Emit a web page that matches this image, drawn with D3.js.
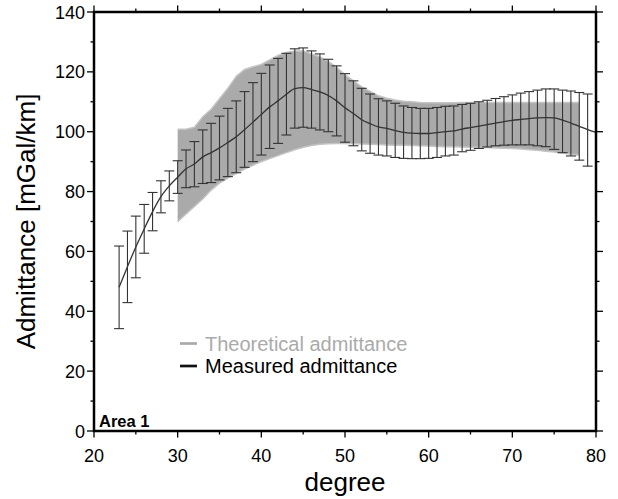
<!DOCTYPE html>
<meta charset='utf-8'>
<head>
    <title>Admittance</title>
    <script src='https://cdn.jsdelivr.net/npm/d3@7/dist/d3.min.js'></script>
</head>

<style>
    body { margin: 0; background: #fff; }
    text { font-family: 'Liberation Sans', Arial, Helvetica, sans-serif; fill: #000; }
    .frame { fill: none; stroke: #000; stroke-width: 2.5px; }
    .tick { stroke: #000; stroke-width: 1.3px; }
    .band { fill: #aaa; stroke: none; }
    .band-edge { fill: none; stroke: #c4c4c4; stroke-width: 1.5px; }
    .bar { stroke: #333; stroke-width: 1.1px; fill: none; }
    .mean { fill: none; stroke: #333; stroke-width: 1.3px; }
</style>

<svg></svg>

<script>

    // measured admittance, error bars at each degree
    var barDegree = d3.range(23, 80);
    var barHigh = [61.8, 66.8, 71.8, 75.7, 79.7, 83.6, 86.9, 90.3, 93.9, 96.7,
        100.6, 102.8, 105.2, 107.8, 110.3, 113.4, 116.4, 119.5, 122.3, 124.5,
        126.2, 127.7, 128.0, 127.0, 126.0, 124.2, 122.0, 119.4, 117.0, 114.5,
        112.6, 111.0, 110.3, 109.5, 108.6, 108.1, 107.8, 107.8, 108.1, 108.5,
        108.6, 109.1, 109.5, 110.0, 110.5, 111.1, 111.7, 112.3, 112.9, 113.4,
        113.9, 114.3, 114.3, 113.9, 113.6, 113.1, 112.6];
    var barLow = [34.2, 42.9, 51.2, 59.4, 66.9, 72.9, 76.9, 79.4, 81.3, 81.6,
        82.7, 83.0, 83.9, 85.0, 86.3, 88.1, 90.0, 92.2, 94.4, 96.1,
        98.9, 101.2, 101.5, 101.2, 100.6, 100.0, 98.6, 96.5, 95.3, 93.6,
        92.8, 92.2, 91.9, 91.4, 91.1, 91.0, 91.0, 91.1, 91.4, 91.9,
        92.2, 93.3, 93.8, 94.4, 94.9, 95.3, 95.5, 95.6, 95.6, 95.6,
        95.3, 95.0, 94.1, 93.0, 91.9, 90.5, 88.5];

    // measured mean curve
    var meanDegree = d3.range(23, 81);
    var meanValue = [48.0, 54.9, 61.5, 67.5, 73.3, 78.3, 81.9, 84.8, 87.6, 89.2,
        91.6, 93.0, 94.6, 96.4, 98.3, 100.7, 103.2, 105.8, 108.3, 110.3,
        112.5, 114.4, 114.7, 114.1, 113.3, 112.1, 110.3, 108.0, 106.1, 104.0,
        102.7, 101.6, 101.1, 100.4, 99.8, 99.5, 99.4, 99.4, 99.7, 100.0,
        100.3, 100.9, 101.4, 101.9, 102.4, 102.9, 103.4, 103.8, 104.1, 104.4,
        104.6, 104.7, 104.6, 103.9, 102.9, 101.8, 100.7, 99.8];

    // theoretical admittance envelope
    var theoryDegree = d3.range(30, 79);
    var theoryHigh = [100.8, 100.8, 101.5, 105.0, 107.5, 111.0, 114.5, 118.5, 120.8, 121.7,
        122.5, 124.0, 125.5, 126.5, 127.0, 127.0, 126.0, 125.0, 123.5, 121.5,
        119.0, 117.0, 115.0, 113.5, 112.0, 111.2, 110.6, 110.2, 110.0, 109.8,
        109.7, 109.7, 109.7, 109.7, 109.8, 109.8, 109.8, 109.8, 109.8, 109.8,
        109.8, 109.8, 109.8, 109.8, 109.8, 109.8, 109.8, 109.8, 109.8];
    var theoryLow = [69.9, 72.5, 75.0, 77.5, 80.5, 82.8, 84.5, 86.0, 87.5, 88.8,
        90.0, 91.0, 92.0, 93.0, 94.0, 94.8, 95.4, 95.8, 96.0, 96.1,
        96.1, 96.0, 95.9, 95.8, 95.7, 95.6, 95.5, 95.5, 95.4, 95.3,
        95.2, 95.1, 95.0, 95.0, 94.9, 94.8, 94.8, 94.7, 94.6, 94.5,
        94.4, 94.2, 94.0, 93.8, 93.5, 93.2, 92.9, 92.5, 92.1];

    var xTicks = [20, 30, 40, 50, 60, 70, 80];
    var yTicks = [0, 20, 40, 60, 80, 100, 120, 140];
    var legendLabels = ['Theoretical admittance', 'Measured admittance'];
    var legendColors = ['#aaa', '#111'];

    var vWidth = 618;
    var vHeight = 499;
    var pLeft = 94, pRight = 596, pTop = 12, pBottom = 431;

    var svg = d3.select('svg').attr('width', vWidth).attr('height', vHeight);

    var x = d3.scaleLinear().domain([20, 80]).range([pLeft, pRight]);
    var y = d3.scaleLinear().domain([0, 140]).range([pBottom, pTop]);

    var g = svg.append('g');

    // theoretical band
    var band = theoryDegree.map(function (d, i) { return {d: d, lo: theoryLow[i], hi: theoryHigh[i]}; });
    g.append('path').attr('class', 'band')
        .attr('d', d3.area().x(function (d) { return x(d.d); })
            .y0(function (d) { return y(d.lo); }).y1(function (d) { return y(d.hi); })(band));
    g.append('path').attr('class', 'band-edge')
        .attr('d', d3.line().x(function (d) { return x(d.d); }).y(function (d) { return y(d.hi); })(band));
    g.append('path').attr('class', 'band-edge')
        .attr('d', d3.line().x(function (d) { return x(d.d); }).y(function (d) { return y(d.lo); })(band));

    // error bars
    var bars = barDegree.map(function (d, i) { return {d: d, lo: barLow[i], hi: barHigh[i]}; });
    var cap = 5;
    var eb = g.selectAll('g.eb').data(bars).enter().append('g').attr('class', 'eb');
    eb.append('line').attr('class', 'bar')
        .attr('x1', function (d) { return x(d.d); }).attr('x2', function (d) { return x(d.d); })
        .attr('y1', function (d) { return y(d.lo); }).attr('y2', function (d) { return y(d.hi); });
    eb.append('line').attr('class', 'bar')
        .attr('x1', function (d) { return x(d.d) - cap; }).attr('x2', function (d) { return x(d.d) + cap; })
        .attr('y1', function (d) { return y(d.hi); }).attr('y2', function (d) { return y(d.hi); });
    eb.append('line').attr('class', 'bar')
        .attr('x1', function (d) { return x(d.d) - cap; }).attr('x2', function (d) { return x(d.d) + cap; })
        .attr('y1', function (d) { return y(d.lo); }).attr('y2', function (d) { return y(d.lo); });

    // mean curve
    g.append('path').attr('class', 'mean')
        .attr('d', d3.line().x(function (d) { return x(d); })
            .y(function (d, i) { return y(meanValue[i]); })
            .curve(d3.curveMonotoneX)(meanDegree));

    // frame and ticks (outward, all four sides)
    var ticks = svg.append('g');
    var xMinor = d3.range(20, 81, 5);
    var yMinor = d3.range(0, 141, 10);
    xMinor.forEach(function (v) {
        var len = v % 10 === 0 ? 6.5 : 3.5;
        ticks.append('line').attr('class', 'tick').attr('x1', x(v)).attr('x2', x(v))
            .attr('y1', pBottom).attr('y2', pBottom + len);
        ticks.append('line').attr('class', 'tick').attr('x1', x(v)).attr('x2', x(v))
            .attr('y1', pTop).attr('y2', pTop - len);
    });
    yMinor.forEach(function (v) {
        var len = v % 20 === 0 ? 7 : 3.5;
        ticks.append('line').attr('class', 'tick').attr('y1', y(v)).attr('y2', y(v))
            .attr('x1', pLeft).attr('x2', pLeft - len);
        ticks.append('line').attr('class', 'tick').attr('y1', y(v)).attr('y2', y(v))
            .attr('x1', pRight).attr('x2', pRight + len);
    });
    svg.append('rect').attr('class', 'frame')
        .attr('x', pLeft).attr('y', pTop).attr('width', pRight - pLeft).attr('height', pBottom - pTop);

    // tick labels
    svg.selectAll('text.xl').data(xTicks).enter().append('text')
        .attr('x', function (d) { return x(d); }).attr('y', 461.5)
        .attr('text-anchor', 'middle').style('font-size', '18px').text(function (d) { return d; });
    svg.selectAll('text.yl').data(yTicks).enter().append('text')
        .attr('x', 85).attr('y', function (d) { return y(d) + 6.5; })
        .attr('text-anchor', 'end').style('font-size', '18px').text(function (d) { return d; });

    // axis titles
    svg.append('text').attr('x', (pLeft + pRight) / 2).attr('y', 491)
        .attr('text-anchor', 'middle').style('font-size', '26px').text('degree');
    svg.append('text').attr('transform', 'translate(35,' + ((pTop + pBottom) / 2) + ') rotate(-90)')
        .attr('text-anchor', 'middle').style('font-size', '26px').text('Admittance [mGal/km]');

    // panel label
    svg.append('text').attr('x', 99).attr('y', 426.5)
        .style('font-size', '16.5px').style('font-weight', 'bold').text('Area 1');

    // legend
    var lg = svg.selectAll('g.lg').data(legendLabels).enter().append('g')
        .attr('transform', function (d, i) { return 'translate(180,' + (343.5 + i * 22.5) + ')'; });
    lg.append('line').attr('x1', 0).attr('x2', 17).attr('y1', 0).attr('y2', 0)
        .style('stroke', function (d, i) { return legendColors[i]; }).style('stroke-width', '2.7px');
    lg.append('text').attr('x', 25).attr('y', 7)
        .style('font-size', '20px').style('fill', function (d, i) { return i === 0 ? '#aaa' : '#000'; })
        .text(function (d) { return d; });
</script>
